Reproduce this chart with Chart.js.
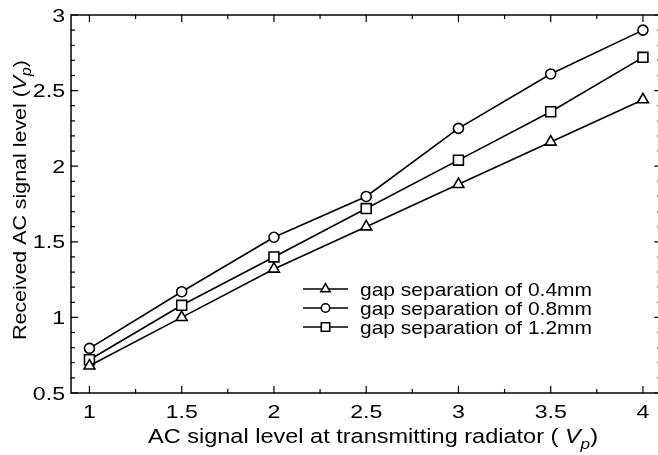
<!DOCTYPE html>
<html>
<head>
<meta charset="utf-8">
<script src="https://cdn.jsdelivr.net/npm/chart.js@4/dist/chart.umd.min.js"></script>
<style>
  html, body { margin: 0; padding: 0; background: #fff; overflow: hidden; }
  #wrap { width: 670px; height: 455px; }
</style>
</head>
<body>
<div id="wrap"><canvas id="gapChart" width="670" height="455"></canvas></div>
<script>
// --- data ---
const xValues = [1, 1.5, 2, 2.5, 3, 3.5, 4]
const gap04 = [0.68, 1.0, 1.32, 1.6, 1.88, 2.16, 2.44]
const gap08 = [0.795, 1.17, 1.53, 1.8, 2.25, 2.61, 2.9]
const gap12 = [0.72, 1.08, 1.4, 1.72, 2.04, 2.36, 2.72]

const seriesLabels = [
  'gap separation of 0.4mm',
  'gap separation of 0.8mm',
  'gap separation of 1.2mm'
]

const xMajorTicks = [1, 1.5, 2, 2.5, 3, 3.5, 4]
const xMinorTicks = [1.25, 1.75, 2.25, 2.75, 3.25, 3.75]
const yMajorTicks = [0.5, 1, 1.5, 2, 2.5, 3]
const yMinorTicks = [0.6, 0.7, 0.8, 0.9, 1.1, 1.2, 1.3, 1.4, 1.6, 1.7, 1.8, 1.9,
  2.1, 2.2, 2.3, 2.4, 2.6, 2.7, 2.8, 2.9]
const yTickLabels = ['0.5', '1', '1.5', '2', '2.5', '3']
const xTickLabels = ['1', '1.5', '2', '2.5', '3', '3.5', '4']

const FONT = '"Liberation Sans", Arial, sans-serif'

function toPoints(ys) {
  return xValues.map((x, i) => ({ x: x, y: ys[i] }))
}

function makeDataset(label, ys, style, radius) {
  return {
    label: label,
    data: toPoints(ys),
    borderColor: '#000',
    borderWidth: 1.6,
    backgroundColor: '#fff',
    pointStyle: style,
    pointRadius: radius,
    pointBorderWidth: 1.6,
    pointBorderColor: '#000',
    pointBackgroundColor: '#fff',
    tension: 0
  }
}

// draw text stretched horizontally (sx) or fitted to a width
function drawText(ctx, text, x, y, size, opts) {
  ctx.save()
  ctx.font = size + 'px ' + FONT
  const natural = ctx.measureText(text).width
  const sx = opts.width ? opts.width / natural : (opts.sx || 1)
  ctx.translate(x, y)
  ctx.scale(sx, 1)
  ctx.textAlign = opts.align || 'left'
  ctx.textBaseline = 'alphabetic'
  ctx.fillText(text, 0, 0)
  ctx.restore()
}

// text ending in italic V with subscript p, centred on 0
function drawVpTitle(ctx, prefix, size, length) {
  const parts = [
    { t: prefix, f: size + 'px ' + FONT, dy: 0 },
    { t: 'V', f: 'italic ' + size + 'px ' + FONT, dy: 0 },
    { t: 'p', f: 'italic ' + Math.round(size * 0.72) + 'px ' + FONT, dy: size * 0.28 },
    { t: ')', f: size + 'px ' + FONT, dy: 0 }
  ]
  let total = 0
  parts.forEach((p) => {
    ctx.font = p.f
    p.w = ctx.measureText(p.t).width
    total += p.w
  })
  ctx.save()
  ctx.scale(length / total, 1)
  let cx = -total / 2
  ctx.textBaseline = 'alphabetic'
  ctx.textAlign = 'left'
  parts.forEach((p) => {
    ctx.font = p.f
    ctx.fillText(p.t, cx, p.dy)
    cx += p.w
  })
  ctx.restore()
}

const framePlugin = {
  id: 'frame',
  afterDraw(chart) {
    const ctx = chart.ctx
    const xs = chart.scales.x
    const ys = chart.scales.y
    const a = chart.chartArea
    ctx.save()
    ctx.strokeStyle = '#000'
    ctx.fillStyle = '#000'
    ctx.lineWidth = 1.5

    // box
    ctx.strokeRect(a.left, a.top, a.right - a.left, a.bottom - a.top)

    // inward ticks on all four sides
    ctx.lineWidth = 1.2
    ctx.beginPath()
    const tickX = (v, len) => {
      const px = xs.getPixelForValue(v)
      ctx.moveTo(px, a.bottom); ctx.lineTo(px, a.bottom - len)
      ctx.moveTo(px, a.top); ctx.lineTo(px, a.top + len)
    }
    const tickY = (v, len) => {
      const py = ys.getPixelForValue(v)
      ctx.moveTo(a.left, py); ctx.lineTo(a.left + len, py)
      ctx.moveTo(a.right, py); ctx.lineTo(a.right - len, py)
    }
    xMajorTicks.forEach((v) => tickX(v, 7))
    xMinorTicks.forEach((v) => tickX(v, 4))
    yMajorTicks.forEach((v) => tickY(v, 7))
    yMinorTicks.forEach((v) => tickY(v, 4))
    ctx.stroke()

    // tick labels
    xMajorTicks.forEach((v, i) => {
      drawText(ctx, xTickLabels[i], xs.getPixelForValue(v), 418, 18.5, { sx: 1.25, align: 'center' })
    })
    yMajorTicks.forEach((v, i) => {
      drawText(ctx, yTickLabels[i], a.left - 6, ys.getPixelForValue(v) + 6.5, 18.5, { sx: 1.25, align: 'right' })
    })

    // axis titles
    ctx.save()
    ctx.translate(373, 443)
    drawVpTitle(ctx, 'AC signal level at transmitting radiator ( ', 20.5, 450)
    ctx.restore()

    ctx.save()
    ctx.translate(25.5, 200)
    ctx.rotate(-Math.PI / 2)
    drawVpTitle(ctx, 'Received AC signal level (', 19, 280)
    ctx.restore()

    // legend
    const rows = [289, 308, 327]
    chart.data.datasets.forEach((ds, i) => {
      const y = rows[i]
      ctx.lineWidth = 1.6
      ctx.strokeStyle = '#000'
      ctx.beginPath()
      ctx.moveTo(303, y); ctx.lineTo(348, y)
      ctx.stroke()
      ctx.fillStyle = '#fff'
      Chart.helpers.drawPoint(ctx, {
        pointStyle: ds.pointStyle,
        radius: ds.pointRadius * 0.85,
        rotation: 0,
        borderWidth: 1.4
      }, 325.5, y)
      ctx.fillStyle = '#000'
      drawText(ctx, ds.label, 360, y + 6.5, 18.5, { width: 232 })
    })
    ctx.restore()
  }
}

new Chart(document.getElementById('gapChart'), {
  type: 'line',
  data: {
    datasets: [
      makeDataset(seriesLabels[0], gap04, 'triangle', 6.3),
      makeDataset(seriesLabels[1], gap08, 'circle', 5),
      makeDataset(seriesLabels[2], gap12, 'rect', 7)
    ]
  },
  options: {
    responsive: false,
    animation: false,
    layout: {
      padding: { left: 71, top: 15, right: 4.5, bottom: 62 }
    },
    plugins: {
      legend: { display: false },
      tooltip: { enabled: false }
    },
    scales: {
      x: { type: 'linear', min: 0.9, max: 4.1, display: false },
      y: { type: 'linear', min: 0.5, max: 3, display: false }
    }
  },
  plugins: [framePlugin]
})
</script>
</body>
</html>
